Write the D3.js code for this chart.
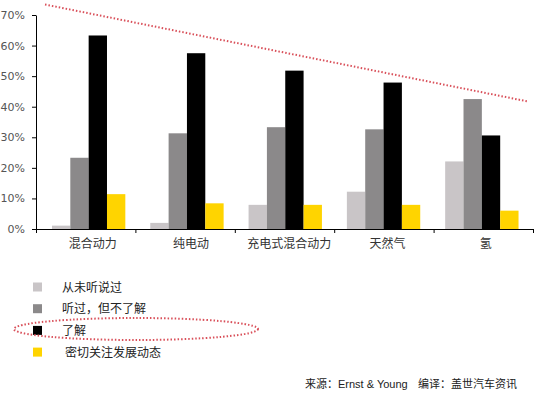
<!DOCTYPE html>
<html>
<head>
<meta charset="utf-8">
<script src="https://d3js.org/d3.v7.min.js"></script>
<style>
body { margin: 0; background: #fff; }
svg { display: block; font-family: "DejaVu Sans", sans-serif; }
</style>
</head>
<body>
<svg width="550" height="395"></svg>
<script>
// data
var categories = ["混合动力", "纯电动", "充电式混合动力", "天然气", "氢"];
var series = ["从未听说过", "听过，但不了解", "了解", "密切关注发展动态"];
var neverHeard = [1.1, 2.0, 7.9, 12.2, 22.1];
var heardNotKnow = [23.3, 31.3, 33.3, 32.6, 42.5];
var know = [63.3, 57.5, 51.8, 47.9, 30.6];
var follow = [11.4, 8.4, 7.9, 7.9, 6.0];
var yTicks = [0, 10, 20, 30, 40, 50, 60, 70];
var colors = ["#c9c5c7", "#8b898a", "#000000", "#ffd400"];

var values = [neverHeard, heardNotKnow, know, follow];
var svg = d3.select("svg");
var cjk = "'Noto Sans CJK SC', sans-serif";

var x0 = d3.scaleBand().domain(categories).range([39.5, 531]).paddingInner(0).paddingOuter(0);
var x1 = d3.scaleBand().domain(series).range([0, x0.bandwidth()]).paddingInner(0).paddingOuter(0.68);
var y = d3.scaleLinear().domain([0, 70]).range([229, 15]);

// bars
series.forEach(function (s, si) {
  svg.append("g").selectAll("rect")
    .data(categories)
    .enter().append("rect")
    .attr("x", function (c) { return x0(c) + x1(s); })
    .attr("y", function (c, i) { return y(values[si][i]); })
    .attr("width", x1.bandwidth())
    .attr("height", function (c, i) { return y(0) - y(values[si][i]); })
    .attr("fill", colors[si]);
});

// y axis
var yAxis = svg.append("g")
  .attr("transform", "translate(36,0)")
  .call(d3.axisLeft(y).tickValues(yTicks).tickSizeInner(4).tickSizeOuter(0).tickPadding(7)
    .tickFormat(function (d) { return d + "%"; }));
yAxis.selectAll("text").attr("font-size", "11px").attr("fill", "#555").attr("font-family", "'DejaVu Sans', sans-serif");
yAxis.selectAll("line, path").attr("stroke", "#000");

// x axis: boundary ticks + labels
var xb = d3.scaleLinear().domain([0, categories.length]).range([36, 533]);
var xTickAxis = svg.append("g")
  .attr("transform", "translate(0,229)")
  .call(d3.axisBottom(xb).ticks(categories.length).tickSizeInner(4).tickSizeOuter(0).tickFormat(""));
xTickAxis.selectAll("line, path").attr("stroke", "#000");

var xAxis = svg.append("g")
  .attr("transform", "translate(4,229)")
  .call(d3.axisBottom(x0).tickSize(0).tickPadding(10));
xAxis.select(".domain").remove();
xAxis.selectAll("text").attr("font-size", "12px").attr("fill", "#333").attr("font-family", cjk);

// red dotted trend line
svg.append("line")
  .attr("x1", 45).attr("y1", 4.5)
  .attr("x2", 528).attr("y2", 101.5)
  .attr("stroke", "#d9505a")
  .attr("stroke-width", 2)
  .attr("stroke-dasharray", "1.5,2");

// legend
var legend = svg.append("g").attr("transform", "translate(33,287)");
series.forEach(function (s, i) {
  var g = legend.append("g").attr("transform", "translate(0," + (i * 21.7) + ")");
  g.append("rect").attr("x", 0).attr("y", -4.5).attr("width", 9).attr("height", 9).attr("fill", colors[i]);
  g.append("text").attr("x", 29 + (i == 3 ? 3 : 0)).attr("y", 4.5)
    .attr("font-size", "12px").attr("fill", "#222").attr("font-family", cjk)
    .text(s);
});

// red dotted ellipse around 了解
svg.append("ellipse")
  .attr("cx", 136).attr("cy", 329)
  .attr("rx", 122).attr("ry", 11)
  .attr("fill", "none")
  .attr("stroke", "#d9505a")
  .attr("stroke-width", 2)
  .attr("stroke-dasharray", "1.5,2");

// source note
svg.append("text")
  .attr("x", 305).attr("y", 388)
  .attr("font-size", "11px").attr("fill", "#222").attr("font-family", "'Liberation Sans', " + cjk)
  .text("来源：Ernst & Young");
svg.append("text")
  .attr("x", 418).attr("y", 388)
  .attr("font-size", "11px").attr("fill", "#222").attr("font-family", cjk)
  .text("编译：盖世汽车资讯");
</script>
</body>
</html>
